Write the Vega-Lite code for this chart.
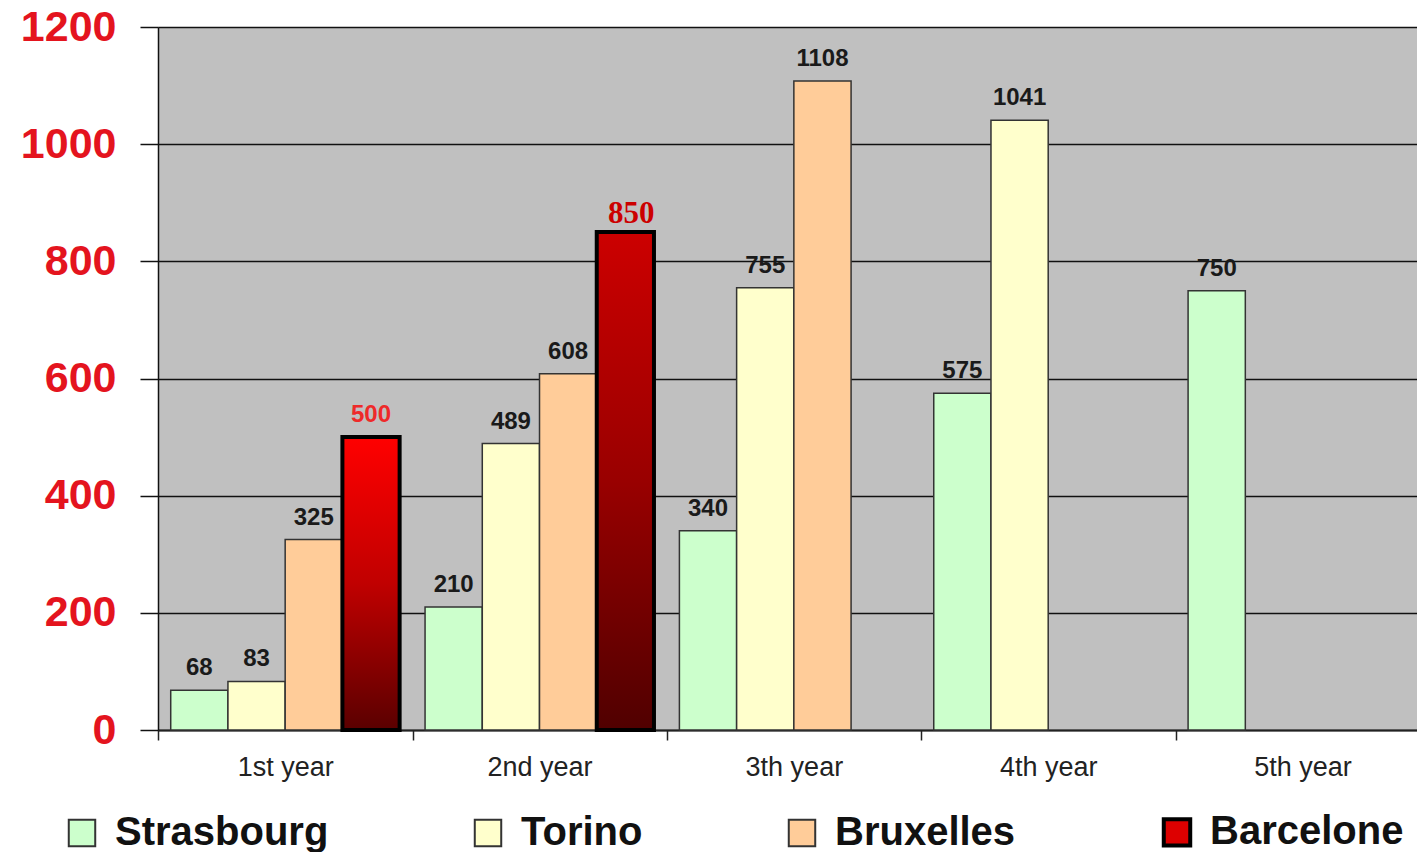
{
  "$schema": "https://vega.github.io/schema/vega-lite/v6.json",
  "width": 1259,
  "height": 703,
  "autosize": {"type": "none"},
  "padding": {"left": 158, "top": 27, "right": 0, "bottom": 122},
  "background": "white",
  "config": {"view": {"fill": "#c0c0c0", "stroke": null}, "font": "Liberation Sans"},
  "data": {
    "values": [
      {"year": "1st year", "city": "Strasbourg", "value": 68},
      {"year": "1st year", "city": "Torino", "value": 83},
      {"year": "1st year", "city": "Bruxelles", "value": 325},
      {"year": "1st year", "city": "Barcelone", "value": 500},
      {"year": "2nd year", "city": "Strasbourg", "value": 210},
      {"year": "2nd year", "city": "Torino", "value": 489},
      {"year": "2nd year", "city": "Bruxelles", "value": 608},
      {"year": "2nd year", "city": "Barcelone", "value": 850},
      {"year": "3th year", "city": "Strasbourg", "value": 340},
      {"year": "3th year", "city": "Torino", "value": 755},
      {"year": "3th year", "city": "Bruxelles", "value": 1108},
      {"year": "4th year", "city": "Strasbourg", "value": 575},
      {"year": "4th year", "city": "Torino", "value": 1041},
      {"year": "5th year", "city": "Strasbourg", "value": 750}
    ]
  },
  "encoding": {
    "x": {
      "field": "year", "type": "nominal",
      "sort": ["1st year", "2nd year", "3th year", "4th year", "5th year"],
      "scale": {"paddingInner": 0.1, "paddingOuter": 0.025, "align": 1},
      "axis": {
        "title": null, "labelAngle": 0, "labelFont": "Liberation Sans", "labelFontSize": 27,
        "labelColor": "#222", "tickSize": 10, "tickColor": "#222", "tickWidth": 1.5,
        "tickOffset": -127, "labelOffset": 127, "labelPadding": 14,
        "domainColor": "#222", "domainWidth": 2, "grid": false
      }
    },
    "xOffset": {
      "field": "city", "type": "nominal",
      "scale": {"domain": ["Strasbourg", "Torino", "Bruxelles", "Barcelone"], "paddingInner": 0, "paddingOuter": 0}
    },
    "y": {
      "field": "value", "type": "quantitative",
      "scale": {"domain": [0, 1200], "nice": false},
      "axis": {
        "title": null, "values": [0, 200, 400, 600, 800, 1000, 1200], "format": "d",
        "labelFont": "Liberation Sans", "labelFontSize": 43, "labelFontWeight": "bold",
        "labelColor": "#e4141e", "tickSize": 18, "tickColor": "#111", "tickWidth": 1.5,
        "labelPadding": 24, "domainColor": "#111", "domainWidth": 1.5,
        "grid": true, "gridColor": "#111", "gridWidth": 1.5, "gridOpacity": 1
      }
    }
  },
  "layer": [
    {
      "mark": {"type": "bar", "stroke": "#333", "strokeWidth": 1.5},
      "encoding": {
        "color": {
          "field": "city", "type": "nominal",
          "scale": {
            "domain": ["Strasbourg", "Torino", "Bruxelles", "Barcelone"],
            "range": ["#ccffcc", "#ffffcc", "#ffcc99", "#dd0000"]
          },
          "legend": {
            "title": null, "orient": "none", "direction": "horizontal",
            "legendX": -96, "legendY": 785,
            "symbolType": "square", "symbolSize": 700,
            "symbolStrokeColor": "#222", "symbolStrokeWidth": 2, "symbolOpacity": 1,
            "labelFont": "Liberation Sans", "labelFontSize": 40, "labelFontWeight": "bold",
            "labelColor": "#111", "labelOffset": 13, "columnPadding": 139, "labelLimit": 400,
            "encode": {
              "symbols": {"update": {"strokeWidth": {"signal": "datum.value === 'Barcelone' ? 4 : 2"}, "stroke": {"signal": "datum.value === 'Barcelone' ? '#000' : '#333'"}}}
            }
          }
        }
      }
    },
    {
      "transform": [{"filter": "datum.city === 'Barcelone' && datum.year === '1st year'"}],
      "mark": {
        "type": "bar", "stroke": "#000", "strokeWidth": 4,
        "fill": {"gradient": "linear", "x1": 0, "y1": 0, "x2": 0, "y2": 1,
          "stops": [{"offset": 0, "color": "#ff0000"}, {"offset": 0.5, "color": "#c00000"}, {"offset": 1, "color": "#5a0000"}]}
      }
    },
    {
      "transform": [{"filter": "datum.city === 'Barcelone' && datum.year === '2nd year'"}],
      "mark": {
        "type": "bar", "stroke": "#000", "strokeWidth": 4,
        "fill": {"gradient": "linear", "x1": 0, "y1": 0, "x2": 0, "y2": 1,
          "stops": [{"offset": 0, "color": "#cc0000"}, {"offset": 0.5, "color": "#990000"}, {"offset": 1, "color": "#500000"}]}
      }
    },
    {
      "transform": [{"filter": "datum.city !== 'Barcelone'"}],
      "mark": {"type": "text", "font": "Liberation Sans", "fontSize": 24, "fontWeight": "bold", "color": "#1a1a1a", "baseline": "alphabetic", "dy": -15},
      "encoding": {"text": {"field": "value", "type": "quantitative"}}
    },
    {
      "transform": [{"filter": "datum.city === 'Barcelone' && datum.year === '1st year'"}],
      "mark": {"type": "text", "font": "Liberation Sans", "fontSize": 24, "fontWeight": "bold", "color": "#ee2a2a", "baseline": "alphabetic", "dy": -15},
      "encoding": {"text": {"field": "value", "type": "quantitative"}}
    },
    {
      "transform": [{"filter": "datum.city === 'Barcelone' && datum.year === '2nd year'"}],
      "mark": {"type": "text", "font": "Liberation Serif", "fontSize": 31, "fontWeight": "bold", "color": "#cc0000", "baseline": "alphabetic", "dy": -9, "dx": 6},
      "encoding": {"text": {"field": "value", "type": "quantitative"}}
    }
  ]
}
